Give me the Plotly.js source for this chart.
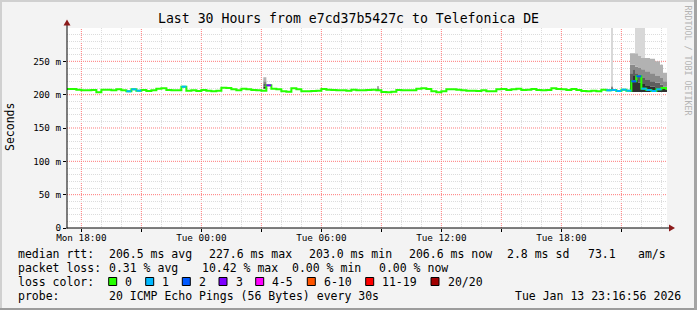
<!DOCTYPE html>
<html><head><meta charset="utf-8">
<script src="https://cdn.plot.ly/plotly-3.0.1.min.js"></script>
<style>html,body{margin:0;padding:0;background:#f3f3f3;}#chart{width:697px;height:310px;}</style>
</head><body><div id="chart"></div>
<script>
// ---------- data ----------
const seriesStart = "2026-01-12 17:15";   // first sample
const sampleMinutes = 15;                  // sample spacing
const rangeStart = "2026-01-12 17:16:56";
const rangeEnd   = "2026-01-13 23:16:56";

const medianMs = [
 208.5,208.5,207.5,206.5,206.5,207,203.5,207.5,207.5,206.5,
 208,206.5,205,208,206,207,205.5,206.5,209,209.5,
 207,206.5,206.5,212,206,206.5,205.5,207,206,205,
 206,210.5,210,208,206.5,209,208,207,206.5,206,
 214,209,208,205,204.5,209.5,208,205,205,205.5,
 206,208.5,207.5,207,206.5,206.5,206,207.5,206.5,206.5,
 207,207.5,206.5,204,203.5,204.5,207,206.5,206.5,206.5,
 209,209.5,208.5,205,203.5,205,208,208,207.5,206.5,
 206,206,205.5,206.5,205,205,208,208.5,207,208,
 209,207,207.5,208.5,207,206.5,207,209.5,208.5,208,
 207,208.5,207,205.5,205,206,205,207.5,206.5,207,
 205.5,207.5,206,220,227.6,209,207,205.5,208,210,
 207
];
const lossClass = [
 0,0,0,0,0,0,0,0,0,0,
 0,0,1,1,1,0,0,0,0,0,
 0,0,0,1,0,0,0,0,0,0,
 0,0,0,0,0,0,0,0,0,0,
 3,0,0,0,0,0,0,0,0,0,
 0,0,0,0,0,0,0,0,0,0,
 0,0,0,0,0,0,0,0,0,0,
 0,0,0,0,0,0,0,0,0,0,
 0,0,0,0,0,0,0,0,0,0,
 0,0,0,0,0,0,0,0,0,0,
 0,0,0,0,0,0,0,0,1,1,
 1,1,1,2,2,1,1,1,1,0,
 0
];
const lossLabels = ["0","1","2","3","4-5","6-10","11-19","20/20"];
const lossColors = ["#26ff00","#00b8ff","#0059ff","#7e00ff","#ff00ff","#ff5500","#ff0000","#a10000"];

// smoke (ping spread) samples: band edges in ms
const smokeTime = ["2026-01-13 03:06","2026-01-13 03:15","2026-01-13 08:47","2026-01-13 08:53",
 "2026-01-13 20:29","2026-01-13 20:35","2026-01-13 21:26","2026-01-13 21:35","2026-01-13 21:41",
 "2026-01-13 21:50","2026-01-13 22:00","2026-01-13 22:11","2026-01-13 22:26","2026-01-13 22:41",
 "2026-01-13 22:56","2026-01-13 23:05","2026-01-13 23:17"];
const smokeB0 = [209,207,207,207,208,207,204,204,204,204,204,204,204,204,204,204,204];
const smokeB1 = [212,207,208,207,209,207,222,228,222,218,216,214,212,211,210,209,209];
const smokeB2 = [216,207,209,207,210,207,232,238,232,228,225,222,220,218,215,212,212];
const smokeB3 = [220,207,211,207,212,207,245,245,242,240,238,235,232,228,225,220,220];
const smokeB4 = [226,207,213,207,213,207,262,262,262,258,255,255,254,250,245,233,233];
const smokeB5 = [226,207,213,207,312,207,262,262,312,312,312,255,254,250,245,233,233];
const smokeShades = ["#303030","#5e5e5e","#8a8a8a","#b2b2b2","#d8d8d8"];

const yMajorVals = [0,50,100,150,200,250];
const yMajorText = ["0","50 m","100 m","150 m","200 m","250 m"];
const yMinorStep = 10;
const xMajorVals = ["2026-01-12 18:00","2026-01-12 21:00","2026-01-13 00:00","2026-01-13 03:00",
 "2026-01-13 06:00","2026-01-13 09:00","2026-01-13 12:00","2026-01-13 15:00","2026-01-13 18:00","2026-01-13 21:00"];
const xMajorText = ["Mon 18:00","","Tue 00:00","","Tue 06:00","","Tue 12:00","","Tue 18:00",""];

const titleText = "Last 30 Hours from e7cd37b5427c to Telefonica DE";
const legendRows = [
 [["median rtt:",16],["206.5 ms avg",107.3],["227.6 ms max",207.3],["203.0 ms min",307.3],["206.6 ms now",407.3],["2.8 ms sd",505],["73.1",586],["am/s",635.7]],
 [["packet loss:",16],["0.31 % avg",107.3],["10.42 % max",199.5],["0.00 % min",290],["0.00 % now",376.7]],
 [["loss color:",16]],
 [["probe:",16],["20 ICMP Echo Pings (56 Bytes) every 30s",107.3],["Tue Jan 13 23:16:56 2026",513.3]]
];
const lossBoxX = [108.7,145.7,182.3,219,255.7,307.3,365.7,431];

// ---------- build ----------
const W=697,H=310,L=67,R=30,T=28,B=82,PW=W-L-R,PH=H-T-B;
const px=x=>(x-L)/PW, py=y=>(H-B-y)/PH;
const pad=n=>String(n).padStart(2,'0');
function fmt(d){return d.getUTCFullYear()+'-'+pad(d.getUTCMonth()+1)+'-'+pad(d.getUTCDate())+' '+pad(d.getUTCHours())+':'+pad(d.getUTCMinutes());}
const toMs=s=>new Date(s.replace(' ','T')+(s.length===16?':00':'')+'Z').getTime();
const s0=toMs(seriesStart);
const times=medianMs.map((_,i)=>fmt(new Date(s0+i*sampleMinutes*60000)));
const timesNext=medianMs.map((_,i)=>fmt(new Date(s0+(i+1)*sampleMinutes*60000)));

const xMinorVals=[];
for(let t=Math.ceil(toMs(rangeStart)/3600000)*3600000;t<=toMs(rangeEnd);t+=3600000){
  if(new Date(t).getUTCHours()%3!==0) xMinorVals.push(fmt(new Date(t)));
}
const yMinorVals=[];
for(let v=yMinorStep;v<300;v+=yMinorStep){ if(v%50!==0) yMinorVals.push(v); }

const traces=[];
traces.push({x:[rangeStart],y:[0],xaxis:'x2',yaxis:'y2',type:'scatter',mode:'markers',marker:{opacity:0},hoverinfo:'skip'});
const bands=[smokeB0,smokeB1,smokeB2,smokeB3,smokeB4,smokeB5];
for(let k=0;k<5;k++){
  traces.push({x:smokeTime,y:bands[k],type:'scatter',mode:'lines',line:{width:0,shape:'hv'},hoverinfo:'skip'});
  traces.push({x:smokeTime,y:bands[k+1],type:'scatter',mode:'lines',line:{width:0,shape:'hv'},fill:'tonexty',fillcolor:smokeShades[k],hoverinfo:'skip'});
}
traces.push({x:times,y:medianMs,type:'scatter',mode:'lines',line:{color:lossColors[0],width:2,shape:'hv'},hoverinfo:'skip'});
for(let c=1;c<lossColors.length;c++){
  const xs=[],ys=[];
  lossClass.forEach((lc,i)=>{if(lc===c){xs.push(times[i],timesNext[i],null);ys.push(medianMs[i],medianMs[i],null);}});
  if(xs.length) traces.push({x:xs,y:ys,type:'scatter',mode:'lines',line:{color:lossColors[c],width:2},hoverinfo:'skip'});
}

const shapes=[], annotations=[];
const mono='DejaVu Sans Mono';
const redGrid='#ff7a7a', greyGrid='#dcdcdc';
xMajorVals.forEach(v=>shapes.push({type:'line',xref:'x',yref:'paper',x0:v,x1:v,y0:0,y1:1,line:{color:redGrid,width:1,dash:'1px,1px'},layer:'below'}));
yMajorVals.forEach(v=>{ if(v>0) shapes.push({type:'line',xref:'paper',yref:'y',x0:0,x1:1,y0:v,y1:v,line:{color:redGrid,width:1,dash:'1px,1px'},layer:'below'}); });
shapes.push({type:'rect',xref:'paper',yref:'paper',x0:px(0),x1:px(W),y0:py(0),y1:py(2),fillcolor:'#d0d0d0',line:{width:0},layer:'below'});
shapes.push({type:'rect',xref:'paper',yref:'paper',x0:px(0),x1:px(2),y0:py(0),y1:py(H),fillcolor:'#d0d0d0',line:{width:0},layer:'below'});
shapes.push({type:'rect',xref:'paper',yref:'paper',x0:px(0),x1:px(W),y0:py(H-2),y1:py(H),fillcolor:'#9c9c9c',line:{width:0},layer:'below'});
shapes.push({type:'rect',xref:'paper',yref:'paper',x0:px(W-3),x1:px(W),y0:py(0),y1:py(H),fillcolor:'#a4a4a4',line:{width:0},layer:'below'});
shapes.push({type:'line',xref:'paper',yref:'paper',x0:px(67),x1:px(67),y0:py(228.5),y1:py(24),line:{color:'#000',width:1}});
shapes.push({type:'line',xref:'paper',yref:'paper',x0:px(66.5),x1:px(670),y0:py(228),y1:py(228),line:{color:'#000',width:1}});
shapes.push({type:'path',xref:'paper',yref:'paper',path:`M ${px(63.5)} ${py(25.5)} L ${px(70.5)} ${py(25.5)} L ${px(67)} ${py(19.5)} Z`,fillcolor:'#8b1a1a',line:{width:0}});
shapes.push({type:'path',xref:'paper',yref:'paper',path:`M ${px(669)} ${py(224.5)} L ${px(669)} ${py(231.5)} L ${px(675)} ${py(228)} Z`,fillcolor:'#8b1a1a',line:{width:0}});

const rowY=[253.5,267.5,281.5,295.5];
legendRows.forEach((row,r)=>row.forEach(([t,x])=>annotations.push({text:t.replace(/ /g,'\u00a0'),xref:'paper',yref:'paper',x:px(x),y:py(rowY[r]),xanchor:'left',yanchor:'middle',showarrow:false,font:{family:mono,size:11.5,color:'#000'}})));
lossLabels.forEach((lab,k)=>{
  const bx=lossBoxX[k];
  shapes.push({type:'rect',xref:'paper',yref:'paper',x0:px(bx),x1:px(bx+8),y0:py(277.5),y1:py(285.5),fillcolor:lossColors[k],line:{color:'#000',width:1}});
  annotations.push({text:lab,xref:'paper',yref:'paper',x:px(bx+14.5),y:py(rowY[2]),xanchor:'left',yanchor:'middle',showarrow:false,font:{family:mono,size:11.5,color:'#000'}});
});
annotations.push({text:'Seconds',xref:'paper',yref:'paper',x:px(10),y:py(127),textangle:-90,xanchor:'center',yanchor:'middle',showarrow:false,font:{family:mono,size:11.5,color:'#000'}});
annotations.push({text:'RRDTOOL / TOBI OETIKER',xref:'paper',yref:'paper',x:px(687.5),y:py(60),textangle:90,xanchor:'center',yanchor:'middle',showarrow:false,font:{family:mono,size:8.3,color:'#b4b4b4'}});

const gridAxis=(extra)=>Object.assign({showticklabels:false,ticks:'',showgrid:true,griddash:'1px,1px',gridwidth:1,showline:false,zeroline:false,fixedrange:true,tickmode:'array'},extra);
const layout={
  width:W,height:H,margin:{l:L,r:R,t:T,b:B,pad:0},
  paper_bgcolor:'#f3f3f3',plot_bgcolor:'#ffffff',showlegend:false,
  font:{family:mono,size:11.5,color:'#000'},
  title:{text:titleText,font:{family:mono,size:13.2,color:'#000'},x:0.5,xanchor:'center',xref:'container',yref:'container',y:1-18.7/H,yanchor:'middle'},
  xaxis2:gridAxis({type:'date',range:[rangeStart,rangeEnd],overlaying:'x',anchor:'y',side:'bottom',tickvals:xMinorVals,gridcolor:greyGrid}),
  yaxis2:gridAxis({range:[0,300],overlaying:'y',anchor:'x',side:'left',tickvals:yMinorVals,gridcolor:greyGrid}),
  xaxis:{type:'date',range:[rangeStart,rangeEnd],tickmode:'array',tickvals:xMajorVals,ticktext:xMajorText,
    ticks:'outside',ticklen:3,tickcolor:'#000',tickfont:{family:mono,size:9.3,color:'#000'},ticklabelstandoff:-2,
    showgrid:false,showline:false,zeroline:false,fixedrange:true},
  yaxis:{range:[0,300],tickmode:'array',tickvals:yMajorVals,ticktext:yMajorText,
    ticks:'outside',ticklen:3,tickcolor:'#000',tickfont:{family:mono,size:9.3,color:'#000'},
    showgrid:false,showline:false,zeroline:false,fixedrange:true},
  shapes:shapes,annotations:annotations
};
Plotly.newPlot('chart',traces,layout,{displayModeBar:false,staticPlot:true});
</script></body></html>
